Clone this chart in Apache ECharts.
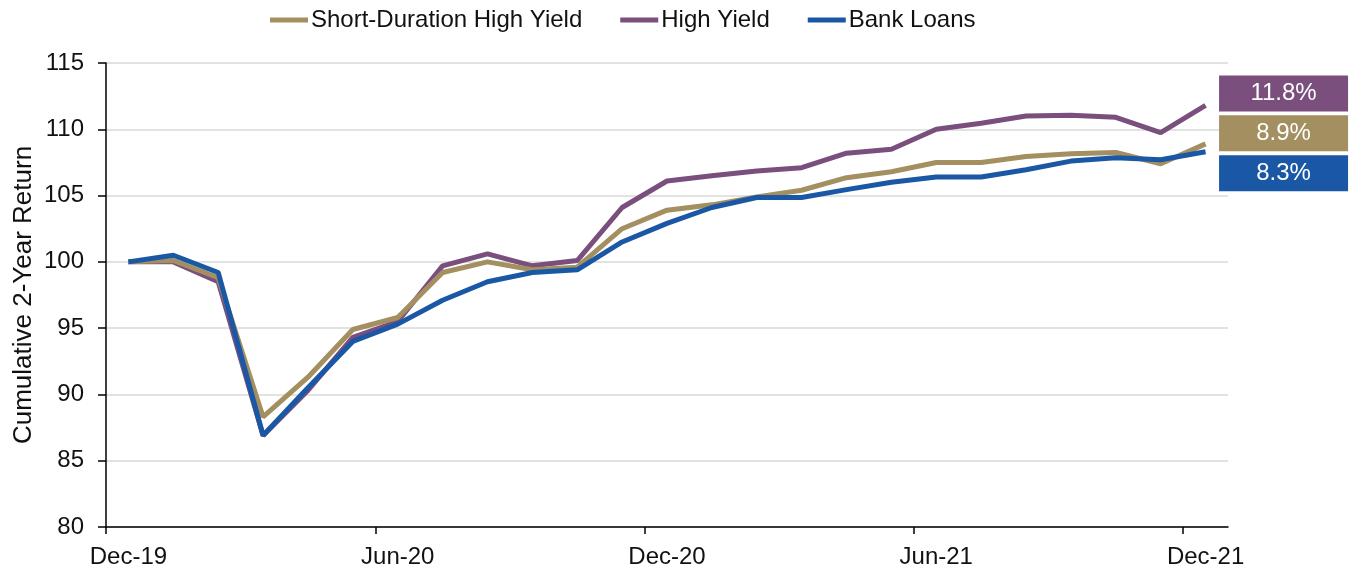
<!DOCTYPE html>
<html>
<head>
<meta charset="utf-8">
<script src="https://cdn.jsdelivr.net/npm/echarts@6/dist/echarts.min.js"></script>
<style>
html,body{margin:0;padding:0;background:#fff;}
#chart{width:1351px;height:570px;}
</style>
</head>
<body>
<div id="chart"></div>
<script>
// Monthly observation dates (one category per data point)
const months = ['Dec-19','Jan-20','Feb-20','Mar-20','Apr-20','May-20','Jun-20','Jul-20','Aug-20','Sep-20','Oct-20','Nov-20',
  'Dec-20','Jan-21','Feb-21','Mar-21','Apr-21','May-21','Jun-21','Jul-21','Aug-21','Sep-21','Oct-21','Nov-21','Dec-21'];
// Month boundaries used only for tick marks (one more than months)
const boundaries = months.concat(['']);

const shortDurationHY = [100.0,100.1,98.8,88.3,91.3,94.9,95.8,99.2,100.0,99.4,99.6,102.5,
  103.9,104.3,104.9,105.4,106.35,106.8,107.5,107.5,107.95,108.15,108.25,107.4,108.9];
const highYield = [100.0,100.0,98.5,86.9,90.3,94.3,95.5,99.7,100.6,99.7,100.1,104.1,
  106.1,106.5,106.85,107.1,108.2,108.5,110.0,110.45,111.0,111.05,110.9,109.75,111.8];
const bankLoans = [100.0,100.5,99.2,86.9,90.5,94.0,95.3,97.1,98.5,99.2,99.4,101.5,
  102.9,104.1,104.85,104.85,105.45,106.0,106.4,106.4,106.95,107.6,107.85,107.7,108.3];

const yTicks = {min: 80, max: 115, step: 5};

const FONT = 'Liberation Sans, Arial, Helvetica, sans-serif';
const C_TAN = '#A38F60', C_PUR = '#7A4F7E', C_BLU = '#1A57A5';

function endLbl(color, dy) {
  return {
    show: true,
    formatter: p => (p.value - 100).toFixed(1) + '%',
    color: '#fff',
    fontFamily: FONT,
    fontSize: 24,
    backgroundColor: color,
    width: 129,
    height: 36,
    lineHeight: 36,
    align: 'center',
    verticalAlign: 'middle',
    distance: 0,
    offset: [78, dy]
  };
}

const chart = echarts.init(document.getElementById('chart'), null, {renderer: 'canvas'});
chart.setOption({
  animation: false,
  backgroundColor: '#fff',
  textStyle: {fontFamily: FONT},
  legend: {
    data: ['Short-Duration High Yield', 'High Yield', 'Bank Loans'],
    left: 265,
    top: 3,
    icon: 'rect',
    itemWidth: 38,
    itemHeight: 5,
    itemGap: 38,
    textStyle: {fontFamily: FONT, fontSize: 24, color: '#111', padding: [0,0,0,-2]}
  },
  grid: {left: 106, right: 123, top: 63, bottom: 43, containLabel: false},
  xAxis: [
    {
      type: 'category',
      data: months,
      boundaryGap: true,
      axisLine: {show: true, lineStyle: {color: '#000', width: 1.5}},
      axisTick: {show: false},
      axisLabel: {interval: 5, color: '#111', fontFamily: FONT, fontSize: 24, margin: 18},
      splitLine: {show: false}
    },
    {
      type: 'category',
      data: boundaries,
      boundaryGap: false,
      position: 'bottom',
      axisLine: {show: false},
      axisTick: {show: true, interval: 5, length: 7, lineStyle: {color: '#000', width: 1.5}},
      axisLabel: {show: false, interval: 5},
      splitLine: {show: false}
    }
  ],
  yAxis: {
    type: 'value',
    min: yTicks.min,
    max: yTicks.max,
    interval: yTicks.step,
    name: 'Cumulative 2-Year Return',
    nameLocation: 'middle',
    nameGap: 69,
    nameMoveOverlap: false,
    nameTextStyle: {fontFamily: FONT, fontSize: 26, color: '#111'},
    axisLine: {show: true, lineStyle: {color: '#000', width: 1.5}},
    axisTick: {show: true, length: 8, lineStyle: {color: '#000', width: 1.5}},
    axisLabel: {color: '#111', fontFamily: FONT, fontSize: 24, margin: 22},
    splitLine: {show: true, lineStyle: {color: '#d9d9d9', width: 1.5}}
  },
  series: [
    {
      name: 'High Yield', type: 'line', xAxisIndex: 0, data: highYield,
      showSymbol: false, symbol: 'none', color: C_PUR,
      lineStyle: {width: 5, color: C_PUR}, z: 2,
      endLabel: endLbl(C_PUR, -12)
    },
    {
      name: 'Short-Duration High Yield', type: 'line', xAxisIndex: 0, data: shortDurationHY,
      showSymbol: false, symbol: 'none', color: C_TAN,
      lineStyle: {width: 5, color: C_TAN}, z: 3,
      endLabel: endLbl(C_TAN, -10.5)
    },
    {
      name: 'Bank Loans', type: 'line', xAxisIndex: 0, data: bankLoans,
      showSymbol: false, symbol: 'none', color: C_BLU,
      lineStyle: {width: 5, color: C_BLU}, z: 4,
      endLabel: endLbl(C_BLU, 21.5)
    }
  ]
});
</script>
</body>
</html>
